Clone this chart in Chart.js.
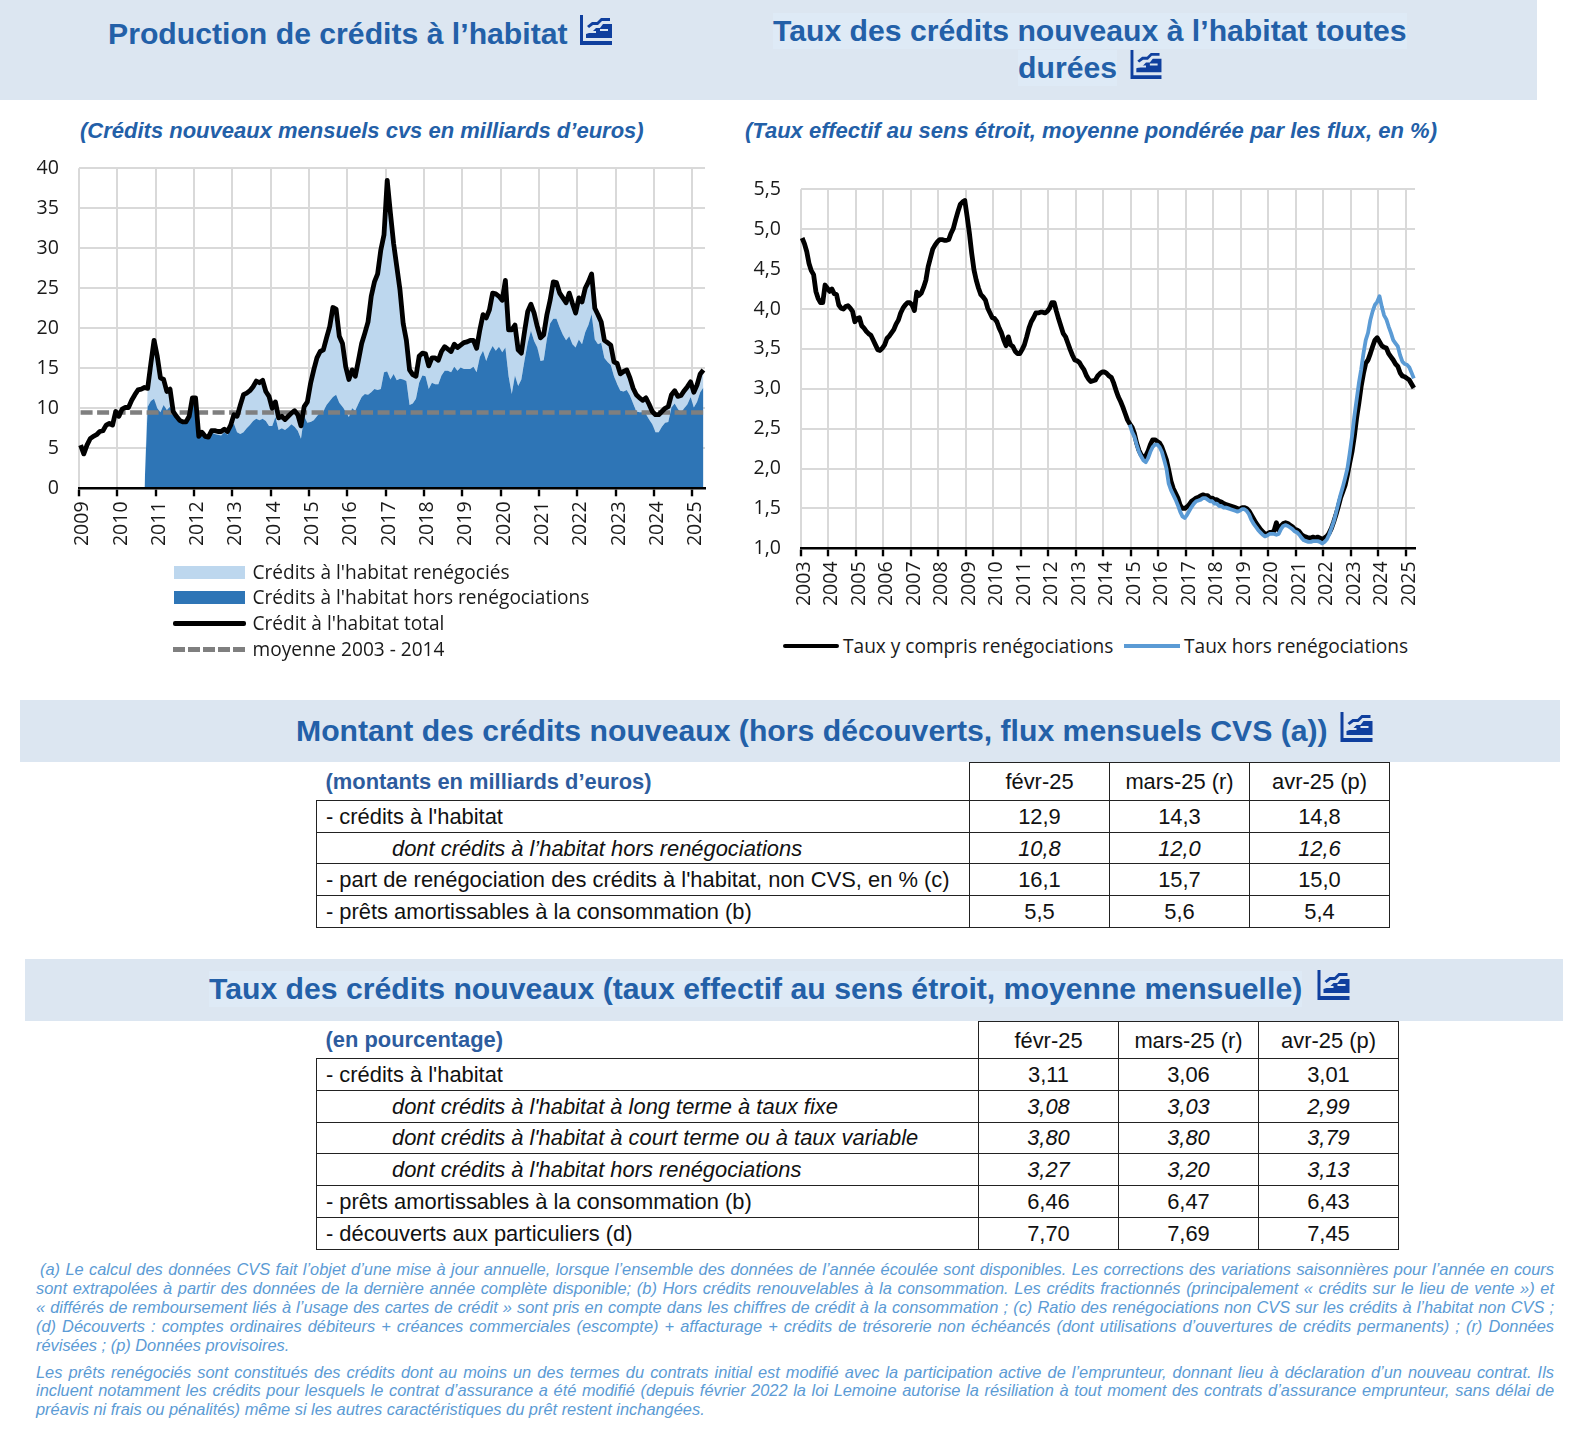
<!DOCTYPE html>
<html lang="fr">
<head>
<meta charset="utf-8">
<title>Crédits à l'habitat</title>
<script src="https://cdn.jsdelivr.net/npm/chart.js@4"></script>
<style>
  html, body { margin: 0; padding: 0; background: #fff; }
  body { position: relative; width: 1584px; height: 1436px; overflow: hidden; font-family: "Liberation Sans", Arial, sans-serif; }
  .band { position: absolute; background: #dce6f1; }
  .title { position: absolute; white-space: nowrap; font-weight: bold; font-size: 30.2px; line-height: 36px; color: #2360a8; background: #deeaf6; }
  .subtitle { position: absolute; white-space: nowrap; font-weight: bold; font-style: italic; font-size: 22px; line-height: 26px; color: #2360a8; }
  .icon { position: absolute; }
  canvas { position: absolute; }
  .legend { position: absolute; font-family: "Open Sans", sans-serif; font-size: 19.1px; color: #1a1a1a; white-space: nowrap; line-height: 25.6px; }
  .legend span { position: absolute; }
  table { position: absolute; border-collapse: collapse; table-layout: fixed; font-size: 21.9px; color: #111; }
  td { border: 1.4px solid #222; text-align: center; padding: 1px 0 0 0; }
  td.label { text-align: left; padding-left: 9px; white-space: nowrap; }
  td.sub { padding-left: 75px; font-style: italic; }
  tr.it td { font-style: italic; }
  td.head { border: none; border-right: 1.4px solid #222; color: #2d5c9e; font-weight: bold; }
  #notes { position: absolute; left: 36px; top: 1260px; width: 1518px; font-style: italic; font-size: 16.4px; line-height: 18.9px; color: #5b9bd5; }
  #notes div { text-align: justify; text-align-last: justify; white-space: nowrap; }
  #notes div.last { text-align-last: left; }
</style>
</head>
<body>
<svg width="0" height="0" style="position:absolute">
  <symbol id="chart-icon" viewBox="0 0 32 30">
    <path fill="#0f3f9e" d="M0 0h3v26h29v4H0z"/>
    <path fill="#0f3f9e" d="M6 23v-4l6-2 4-4h4l3-4h9v14z"/>
    <path fill="#dce6f1" d="M8 16h8v2H8zM20 14h8v2h-8z"/>
    <path fill="#0f3f9e" d="M7 11l5-4h5l4-4h9v3h-8l-4 4h-5l-4 3z"/>
  </symbol>
</svg>

<div class="band" style="left:0;top:0;width:1537px;height:100px"></div>
<div class="title" style="left:108px;top:16px;background:none">Production de crédits à l’habitat</div>
<svg class="icon" style="left:580px;top:15px" width="32" height="30"><use href="#chart-icon"/></svg>
<div class="title" style="left:773px;top:13px">Taux des crédits nouveaux à l’habitat toutes</div>
<div class="title" style="left:1018px;top:50px">durées</div>
<svg class="icon" style="left:1130px;top:50px" width="32" height="29"><use href="#chart-icon"/></svg>
<div class="subtitle" style="left:80px;top:118px">(Crédits nouveaux mensuels cvs en milliards d’euros)</div>
<div class="subtitle" style="left:745px;top:118px">(Taux effectif au sens étroit, moyenne pondérée par les flux, en %)</div>

<canvas id="chartProduction" style="left:20px;top:150px"></canvas>
<canvas id="chartTaux" style="left:730px;top:170px"></canvas>
<div class="legend" id="legendProduction" style="left:0;top:0"></div>
<div class="legend" id="legendTaux" style="left:0;top:0"></div>

<div class="band" style="left:20px;top:700px;width:1540px;height:62px"></div>
<div class="title" style="left:296px;top:713px;background:none">Montant des crédits nouveaux (hors découverts, flux mensuels CVS (a))</div>
<svg class="icon" style="left:1340px;top:712px" width="33" height="30"><use href="#chart-icon"/></svg>
<table id="tableMontants" style="left:316px;top:762px"></table>

<div class="band" style="left:25px;top:959px;width:1538px;height:62px"></div>
<div class="title" style="left:209px;top:971px">Taux des crédits nouveaux (taux effectif au sens étroit, moyenne mensuelle)</div>
<svg class="icon" style="left:1317px;top:970px" width="33" height="30"><use href="#chart-icon"/></svg>
<table id="tableTaux" style="left:316px;top:1021px"></table>

<div id="notes"></div>

<script>
// Mois : janv. 2009 -> avr. 2025 (graphique 1), janv. 2003 -> avr. 2025 (graphique 2)
const monthsProduction = [];
for (let y = 2009; y <= 2025; y++) for (let m = 1; m <= 12 && (y < 2025 || m <= 4); m++) monthsProduction.push(y + "-" + m);
const monthsTaux = [];
for (let y = 2003; y <= 2025; y++) for (let m = 1; m <= 12 && (y < 2025 || m <= 4); m++) monthsTaux.push(y + "-" + m);

const creditTotal = [
  5.4, 4.3, 5.4, 6.2, 6.5, 6.7, 7.1, 7.2, 7.9, 8.1, 7.9, 9.6,
  9.0, 9.9, 10.1, 10.1, 11.0, 11.7, 12.3, 12.4, 12.6, 12.5, 15.6, 18.5,
  16.5, 13.8, 13.6, 12.1, 12.4, 9.6, 9.0, 8.5, 8.3, 8.3, 9.0, 11.3,
  11.3, 6.5, 7.0, 6.5, 6.4, 7.2, 7.2, 7.1, 7.1, 7.4, 7.1, 7.9,
  9.2, 9.0, 10.4, 11.7, 11.9, 12.2, 12.7, 13.4, 13.2, 13.5, 12.1, 11.5,
  10.0, 10.8, 8.8, 9.0, 8.6, 9.0, 9.4, 9.7, 9.2, 7.8, 10.2, 10.8,
  13.1, 14.8, 16.3, 17.1, 17.3, 18.8, 20.2, 22.6, 22.4, 19.0, 18.1, 15.2,
  13.6, 14.8, 14.0, 16.0, 18.1, 19.4, 20.8, 24.0, 25.8, 26.8, 29.8, 31.7,
  38.5, 34.4, 30.6, 27.7, 24.8, 20.6, 18.5, 14.8, 14.2, 14.0, 16.5, 16.9,
  16.8, 15.3, 16.3, 16.3, 16.0, 17.1, 17.7, 17.4, 17.1, 18.0, 17.6, 17.9,
  18.2, 18.3, 18.5, 18.5, 17.5, 19.8, 21.7, 21.3, 22.3, 24.4, 24.3, 24.0,
  23.5, 26.0, 19.8, 19.8, 20.4, 17.3, 16.9, 19.6, 22.1, 23.0, 21.9, 20.2,
  18.8, 19.2, 21.7, 23.5, 25.8, 25.7, 24.4, 23.8, 23.2, 24.4, 23.1, 21.9,
  23.8, 23.3, 25.0, 25.8, 26.8, 22.5, 21.7, 20.8, 18.5, 18.2, 17.9, 15.8,
  15.6, 14.3, 14.6, 14.8, 13.8, 12.5, 11.7, 11.3, 11.0, 11.3, 10.5, 9.6,
  9.2, 9.2, 9.6, 10.0, 10.2, 11.7, 12.2, 11.5, 11.6, 12.2, 12.7, 13.3,
  12.0, 12.9, 14.3, 14.8
];

const horsRenegociations = [
  null, null, null, null, null, null, null, null, null, null, null, null,
  null, null, null, null, null, null, null, null, 0, 10.2, 10.9, 11.2,
  10.0, 9.5, 10.4, 9.8, 10.2, 9.3, 8.8, 8.3, 8.2, 8.2, 8.9, 10.5,
  10.3, 6.4, 6.9, 6.4, 6.3, 7.0, 6.8, 6.7, 6.6, 7.0, 6.7, 7.6,
  8.1, 7.0, 6.8, 7.0, 7.5, 7.9, 8.4, 8.7, 8.5, 8.7, 8.4, 7.8,
  7.8, 8.9, 7.3, 7.5, 7.3, 7.6, 8.0, 7.7, 7.2, 6.2, 9.0, 8.2,
  8.3, 8.5, 9.0, 9.5, 9.6, 10.4, 10.9, 11.4, 11.7, 10.7, 10.2, 9.6,
  8.9, 10.0, 9.7, 10.6, 11.4, 11.8, 11.7, 12.0, 12.4, 12.3, 12.4, 14.5,
  14.6, 13.6, 14.3, 13.5, 13.7, 13.6, 13.4, 10.4, 10.6, 11.2, 13.2, 14.1,
  14.0, 12.4, 13.2, 13.0, 13.0, 14.1, 14.7, 14.7, 14.5, 15.2, 14.7, 15.1,
  14.9, 14.9, 14.9, 15.2, 14.5, 16.4, 17.2, 15.9, 17.0, 17.8, 17.2, 17.7,
  17.0, 17.6, 14.0, 11.8, 14.1, 12.8, 13.6, 16.0, 18.2, 19.7, 18.4, 17.6,
  15.9, 16.0, 18.7, 20.6, 21.2, 21.2, 20.1, 19.2, 18.5, 19.0, 18.0, 17.6,
  18.6, 18.0, 19.5, 20.4, 21.8, 18.6, 18.0, 18.2, 16.3, 15.8, 15.4, 14.0,
  13.0, 12.2, 12.1, 12.3, 11.6, 10.6, 9.6, 9.5, 9.5, 9.3, 8.6, 8.0,
  7.0, 7.0, 7.7, 8.2, 8.3, 10.1, 10.6, 9.9, 9.5, 10.0, 10.5, 11.4,
  10.1, 10.8, 12.0, 12.6
];

const renegocies = [
  null, null, null, null, null, null, null, null, null, null, null, null,
  null, null, null, null, null, null, null, null, 0, 2.3, 4.7, 7.3,
  6.5, 4.3, 3.2, 2.3, 2.2, 0.3, 0.2, 0.2, 0.1, 0.1, 0.1, 0.8,
  1.0, 0.1, 0.1, 0.1, 0.1, 0.2, 0.4, 0.4, 0.5, 0.4, 0.4, 0.3,
  1.1, 2.0, 3.6, 4.7, 4.4, 4.3, 4.3, 4.7, 4.7, 4.8, 3.7, 3.7,
  2.2, 1.9, 1.5, 1.5, 1.3, 1.4, 1.4, 2.0, 2.0, 1.6, 1.2, 2.6,
  4.8, 6.3, 7.3, 7.6, 7.7, 8.4, 9.3, 11.2, 10.7, 8.3, 7.9, 5.6,
  4.7, 4.8, 4.3, 5.4, 6.7, 7.6, 9.1, 12.0, 13.4, 14.5, 17.4, 17.2,
  23.9, 20.8, 16.3, 14.2, 11.1, 7.0, 5.1, 4.4, 3.6, 2.8, 3.3, 2.8,
  2.8, 2.9, 3.1, 3.3, 3.0, 3.0, 3.0, 2.7, 2.6, 2.8, 2.9, 2.8,
  3.3, 3.4, 3.6, 3.3, 3.0, 3.4, 4.5, 5.4, 5.3, 6.6, 7.1, 6.3,
  6.5, 8.4, 5.8, 8.0, 6.3, 4.5, 3.3, 3.6, 3.9, 3.3, 3.5, 2.6,
  2.9, 3.2, 3.0, 2.9, 4.6, 4.5, 4.3, 4.6, 4.7, 5.4, 5.1, 4.3,
  5.2, 5.3, 5.5, 5.4, 5.0, 3.9, 3.7, 2.6, 2.2, 2.4, 2.5, 1.8,
  2.6, 2.1, 2.5, 2.5, 2.2, 1.9, 2.1, 1.8, 1.5, 2.0, 1.9, 1.6,
  2.2, 2.2, 1.9, 1.8, 1.9, 1.6, 1.6, 1.6, 2.1, 2.2, 2.2, 1.9,
  1.9, 2.1, 2.3, 2.2
];

// moyenne 2003 - 2014 : droite entre le premier et le dernier mois
const moyenne = [9.46, 9.46];

const tauxTotal = [
  4.89, 4.82, 4.72, 4.57, 4.48, 4.43, 4.22, 4.13, 4.08, 4.08, 4.30, 4.26,
  4.22, 4.25, 4.19, 4.18, 4.05, 4.01, 4.00, 4.03, 4.04, 4.01, 3.97, 3.84,
  3.88, 3.89, 3.79, 3.76, 3.72, 3.69, 3.67, 3.61, 3.55, 3.49, 3.48, 3.51,
  3.55, 3.63, 3.66, 3.70, 3.74, 3.81, 3.86, 3.95, 4.01, 4.05, 4.08, 4.08,
  4.05, 3.98, 4.21, 4.17, 4.20, 4.27, 4.36, 4.53, 4.64, 4.75, 4.80, 4.84,
  4.87, 4.87, 4.86, 4.86, 4.87, 4.95, 5.01, 5.12, 5.22, 5.31, 5.34, 5.36,
  5.16, 4.95, 4.70, 4.49, 4.36, 4.26, 4.18, 4.15, 4.11, 4.01, 3.95, 3.89,
  3.88, 3.84, 3.76, 3.70, 3.61, 3.54, 3.65, 3.55, 3.53, 3.47, 3.44, 3.44,
  3.49, 3.55, 3.65, 3.76, 3.84, 3.89, 3.95, 3.95, 3.96, 3.96, 3.95, 3.97,
  4.01, 4.08, 4.08, 3.97, 3.87, 3.78, 3.69, 3.65, 3.57, 3.49, 3.42, 3.36,
  3.35, 3.33, 3.28, 3.24, 3.17, 3.12, 3.09, 3.10, 3.11, 3.16, 3.19, 3.21,
  3.21, 3.19, 3.16, 3.14, 3.07, 2.98, 2.90, 2.84, 2.77, 2.69, 2.61, 2.56,
  2.52, 2.44, 2.32, 2.23, 2.17, 2.13, 2.16, 2.22, 2.30, 2.36, 2.36, 2.34,
  2.32, 2.27, 2.19, 2.11, 1.98, 1.84, 1.75, 1.69, 1.63, 1.54, 1.50, 1.50,
  1.52, 1.55, 1.59, 1.61, 1.63, 1.64, 1.66, 1.67, 1.66, 1.66, 1.63, 1.63,
  1.61, 1.61, 1.59, 1.58, 1.56, 1.55, 1.54, 1.53, 1.52, 1.51, 1.50, 1.49,
  1.51, 1.51, 1.50, 1.47, 1.42, 1.37, 1.32, 1.28, 1.24, 1.21, 1.18, 1.18,
  1.20, 1.20, 1.22, 1.32, 1.23, 1.28, 1.31, 1.32, 1.31, 1.29, 1.27, 1.24,
  1.23, 1.21, 1.17, 1.15, 1.14, 1.13, 1.13, 1.14, 1.13, 1.14, 1.13, 1.11,
  1.13, 1.15, 1.19, 1.25, 1.33, 1.42, 1.52, 1.63, 1.71, 1.79, 1.92, 2.07,
  2.21, 2.40, 2.63, 2.82, 3.03, 3.19, 3.32, 3.36, 3.44, 3.53, 3.61, 3.64,
  3.59, 3.54, 3.52, 3.51, 3.44, 3.40, 3.36, 3.31, 3.28, 3.20, 3.16, 3.15,
  3.13, 3.11, 3.06, 3.01
];

const tauxHorsRenegociations = [
  ...Array(143).fill(null), 2.55,
  2.46, 2.40, 2.30, 2.21, 2.15, 2.10, 2.08, 2.13, 2.21, 2.27, 2.30, 2.30,
  2.27, 2.21, 2.11, 2.00, 1.81, 1.73, 1.67, 1.61, 1.54, 1.46, 1.40, 1.38,
  1.42, 1.47, 1.52, 1.56, 1.59, 1.60, 1.61, 1.63, 1.63, 1.61, 1.59, 1.59,
  1.56, 1.56, 1.53, 1.53, 1.51, 1.51, 1.50, 1.49, 1.48, 1.47, 1.46, 1.47,
  1.49, 1.49, 1.47, 1.43, 1.36, 1.31, 1.27, 1.23, 1.20, 1.17, 1.15, 1.16,
  1.18, 1.18, 1.18, 1.17, 1.18, 1.24, 1.28, 1.29, 1.28, 1.26, 1.24, 1.21,
  1.20, 1.17, 1.13, 1.10, 1.09, 1.08, 1.08, 1.09, 1.09, 1.09, 1.08, 1.06,
  1.08, 1.11, 1.17, 1.25, 1.33, 1.44, 1.56, 1.67, 1.77, 1.88, 2.00, 2.19,
  2.40, 2.65, 2.86, 3.07, 3.24, 3.44, 3.61, 3.70, 3.86, 3.97, 4.05, 4.09,
  4.16, 4.03, 3.92, 3.87, 3.78, 3.70, 3.61, 3.57, 3.53, 3.42, 3.34, 3.31,
  3.30, 3.27, 3.20, 3.13
];

const legendProduction = ["Crédits à l'habitat renégociés", "Crédits à l'habitat hors renégociations", "Crédit à l'habitat total", "moyenne 2003 - 2014"];
const legendTaux = ["Taux y compris renégociations", "Taux hors renégociations"];

// Tableaux
const colonnes = ["févr-25", "mars-25 (r)", "avr-25 (p)"];
const lignesMontants = [
  ["- crédits à l'habitat", "12,9", "14,3", "14,8"],
  ["dont crédits à l’habitat hors renégociations", "10,8", "12,0", "12,6"],
  ["- part de renégociation des crédits à l'habitat, non CVS, en % (c)", "16,1", "15,7", "15,0"],
  ["- prêts amortissables à la consommation (b)", "5,5", "5,6", "5,4"]
];
const lignesTaux = [
  ["- crédits à l'habitat", "3,11", "3,06", "3,01"],
  ["dont crédits à l'habitat à long terme à taux fixe", "3,08", "3,03", "2,99"],
  ["dont crédits à l'habitat à court terme ou à taux variable", "3,80", "3,80", "3,79"],
  ["dont crédits à l'habitat hors renégociations", "3,27", "3,20", "3,13"],
  ["- prêts amortissables à la consommation (b)", "6,46", "6,47", "6,43"],
  ["- découverts aux particuliers (d)", "7,70", "7,69", "7,45"]
];

const notes = [
  " (a) Le calcul des données CVS fait l’objet d’une mise à jour annuelle, lorsque l’ensemble des données de l’année écoulée sont disponibles. Les corrections des variations saisonnières pour l’année en cours",
  "sont extrapolées à partir des données de la dernière année complète disponible; (b) Hors crédits renouvelables à la consommation. Les crédits fractionnés (principalement « crédits sur le lieu de vente ») et",
  "« différés de remboursement liés à l’usage des cartes de crédit » sont pris en compte dans les chiffres de crédit à la consommation ; (c) Ratio des renégociations non CVS sur les crédits à l’habitat non CVS ;",
  "(d) Découverts : comptes ordinaires débiteurs + créances commerciales (escompte) + affacturage + crédits de trésorerie non échéancés (dont utilisations d’ouvertures de crédits permanents) ; (r) Données",
  "révisées ; (p) Données provisoires.",
  "Les prêts renégociés sont constitués des crédits dont au moins un des termes du contrats initial est modifié avec la participation active de l’emprunteur, donnant lieu à déclaration d’un nouveau contrat. Ils",
  "incluent notamment les crédits pour lesquels le contrat d’assurance a été modifié (depuis février 2022 la loi Lemoine autorise la résiliation à tout moment des contrats d’assurance emprunteur, sans délai de",
  "préavis ni frais ou pénalités) même si les autres caractéristiques du prêt restent inchangées."
];

function fillTable(id, titre, lignes, widths, headHeight, rowHeight) {
  let html = "<colgroup>" + widths.map(w => `<col style="width:${w}px">`).join("") + "</colgroup>";
  html += `<tr style="height:${headHeight}px"><td class="head label">${titre}</td>` + colonnes.map(c => `<td>${c}</td>`).join("") + "</tr>";
  lignes.forEach(l => {
    const sub = l[0].startsWith("dont");
    html += `<tr style="height:${rowHeight}px" class="${sub ? "it" : ""}"><td class="label${sub ? " sub" : ""}">${l[0]}</td>` +
      l.slice(1).map(v => `<td>${v}</td>`).join("") + "</tr>";
  });
  document.getElementById(id).innerHTML = html;
}
fillTable("tableMontants", "(montants en milliards d’euros)", lignesMontants, [653, 140, 140, 140], 38, 31.7);
fillTable("tableTaux", "(en pourcentage)", lignesTaux, [662, 140, 140, 140], 37, 31.8);

document.getElementById("notes").innerHTML = notes.map((n, i) => {
  const last = i === 4 || i === 7;
  const style = i === 0 ? "padding-left:4px" : i === 5 ? "margin-top:8px" : "";
  return `<div class="${last ? "last" : ""}" style="${style}">${n}</div>`;
}).join("");

// Légendes
function swatch(left, top, width, height, css) {
  return `<span style="left:${left}px;top:${top - height / 2}px;width:${width}px;height:${height}px;${css}"></span>`;
}
function text(left, top, label) {
  return `<span style="left:${left}px;top:${top - 12.3}px">${label}</span>`;
}
document.getElementById("legendProduction").innerHTML =
  swatch(174, 572, 71, 13, "background:#bdd7ee") + text(252.5, 572, legendProduction[0]) +
  swatch(174, 597.7, 71, 13, "background:#2e75b6") + text(252.5, 597.7, legendProduction[1]) +
  swatch(173, 623.3, 73, 4.8, "background:#000;border-radius:2px") + text(252.5, 623.3, legendProduction[2]) +
  swatch(173, 649, 73, 5, "background:repeating-linear-gradient(90deg,#7f7f7f 0 12px,transparent 12px 15px)") + text(252.5, 649, legendProduction[3]);
document.getElementById("legendTaux").innerHTML =
  swatch(783, 646, 56, 4.8, "background:#000;border-radius:2px") + text(843, 646, legendTaux[0]) +
  swatch(1124, 646, 56, 3.8, "background:#5b9bd5") + text(1184, 646, legendTaux[1]);

// Graphiques
Chart.defaults.font.family = '"Open Sans", sans-serif';
Chart.defaults.font.size = 19.6;
Chart.defaults.color = "#1a1a1a";
Chart.defaults.animation = false;
Chart.defaults.elements.point.radius = 0;
Chart.defaults.elements.line.borderJoinStyle = "round";

function xScale(height) {
  return {
    offset: true,
    afterFit(scale) {
      scale.height = height;
      // pas de marge automatique : la zone de tracé reste à la largeur voulue
      scale.paddingLeft = 0;
      scale.paddingRight = 0;
    },
    grid: {
      offset: true,
      color: c => c.index % 12 === 0 ? "#d9d9d9" : "transparent",
      tickColor: c => c.index % 12 === 0 ? "#000" : "transparent",
      lineWidth: 2,
      tickWidth: 2.4,
      tickLength: 8
    },
    border: { color: "#000", width: 2.6, z: 1 },
    ticks: {
      autoSkip: false,
      maxRotation: 90,
      minRotation: 90,
      padding: 5,
      labelOffset: 2,
      callback(value, index) { return index % 12 === 0 ? this.getLabelForValue(value).split("-")[0] : ""; }
    }
  };
}

function yScale(width, opts) {
  return Object.assign({
    afterFit(scale) {
      scale.width = width;
      scale.paddingTop = 0;
      scale.paddingBottom = 0;
    },
    grid: { color: "#d9d9d9", lineWidth: 2, drawTicks: false },
    border: { display: false },
  }, opts);
}

const c1 = document.getElementById("chartProduction");
c1.width = 700; c1.height = 410;
new Chart(c1, {
  type: "line",
  data: {
    labels: monthsProduction,
    datasets: [
      { label: legendProduction[1], data: horsRenegociations, stack: "aires", order: 3, fill: "origin", backgroundColor: "#2e75b6", borderWidth: 0 },
      { label: legendProduction[0], data: renegocies, stack: "aires", order: 3, fill: "-1", backgroundColor: "#bdd7ee", borderWidth: 0 },
      { label: legendProduction[2], data: creditTotal, stack: "total", order: 0, borderColor: "#000", borderWidth: 4.8 },
      { label: legendProduction[3], data: [{ x: monthsProduction[0], y: moyenne[0] }, { x: monthsProduction[195], y: moyenne[1] }], stack: "moyenne", order: 1, borderColor: "#7f7f7f", borderWidth: 4.5, borderDash: [12, 4.5] }
    ]
  },
  options: {
    responsive: false,
    layout: { padding: { top: 18.3, right: 15, left: 0, bottom: 0 } },
    plugins: { legend: { display: false }, tooltip: { enabled: false } },
    scales: {
      x: xScale(71.7),
      y: yScale(59, {
        stacked: true, min: 0, max: 40,
        ticks: { stepSize: 5, padding: 20 }
      })
    }
  }
});

const c2 = document.getElementById("chartTaux");
c2.width = 700; c2.height = 460;
new Chart(c2, {
  type: "line",
  data: {
    labels: monthsTaux,
    datasets: [
      { label: legendTaux[0], data: tauxTotal, order: 1, borderColor: "#000", borderWidth: 4.8 },
      { label: legendTaux[1], data: tauxHorsRenegociations, order: 0, borderColor: "#5b9bd5", borderWidth: 3.8 }
    ]
  },
  options: {
    responsive: false,
    layout: { padding: { top: 19.3, right: 15, left: 0, bottom: 0 } },
    plugins: { legend: { display: false }, tooltip: { enabled: false } },
    scales: {
      x: xScale(81.7),
      y: yScale(71, {
        min: 1, max: 5.5,
        ticks: { stepSize: 0.5, padding: 20, callback: v => v.toFixed(1).replace(".", ",") }
      })
    }
  }
});
</script>
</body>
</html>
